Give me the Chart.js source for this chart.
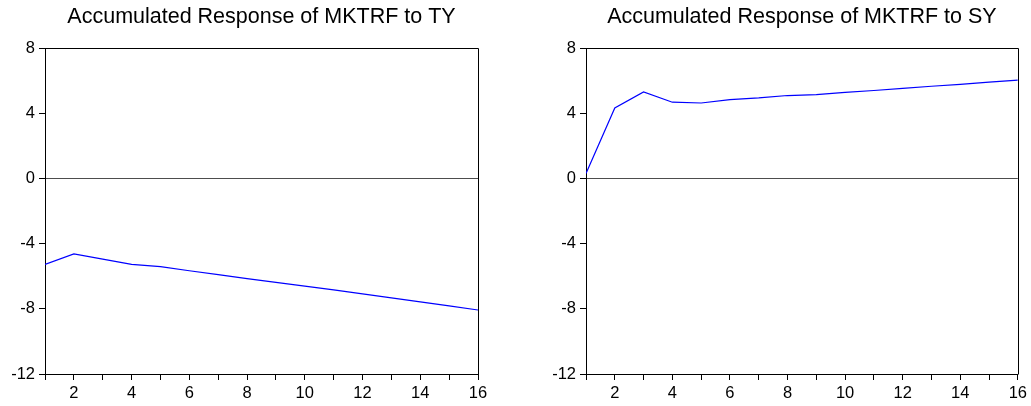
<!DOCTYPE html>
<html lang="en">
<head>
    <meta charset="UTF-8">
    <title>Accumulated Response of MKTRF</title>
    <script src="https://cdn.jsdelivr.net/npm/chart.js"></script>
    <style>
        body {
            margin: 0;
            background: #ffffff;
            font-family: "Liberation Sans", Arial, sans-serif;
        }
        .panel {
            position: absolute;
            top: 0;
            height: 406px;
        }
        #leftPanel { left: 0; width: 515px; }
        #rightPanel { left: 540px; width: 491px; }
    </style>
</head>
<body>
    <div class="panel" id="leftPanel"><canvas id="tyChart"></canvas></div>
    <div class="panel" id="rightPanel"><canvas id="syChart"></canvas></div>

    <script>
        // horizons (periods) and accumulated responses
        var periods = [1, 2, 3, 4, 5, 6, 7, 8, 9, 10, 11, 12, 13, 14, 15, 16];
        var responseTY = [-5.27, -4.62, -4.95, -5.27, -5.41, -5.66, -5.90, -6.14, -6.37, -6.60, -6.83, -7.08, -7.32, -7.57, -7.82, -8.07];
        var responseSY = [0.31, 4.34, 5.32, 4.69, 4.64, 4.85, 4.95, 5.10, 5.16, 5.29, 5.41, 5.54, 5.67, 5.79, 5.92, 6.04];
        var yTicks = [-12, -8, -4, 0, 4, 8];

        Chart.defaults.font.family = '"Liberation Sans", Arial, sans-serif';
        Chart.defaults.color = '#000000';

        // closes the box on top and right
        var frame = {
            id: 'frame',
            afterDatasetsDraw: function(chart) {
                var a = chart.chartArea, c = chart.ctx;
                c.save();
                c.strokeStyle = '#000000';
                c.lineWidth = 1;
                c.beginPath();
                c.moveTo(Math.round(a.left) + 0.5, Math.round(a.top) + 0.5);
                c.lineTo(Math.round(a.right) + 0.5, Math.round(a.top) + 0.5);
                c.lineTo(Math.round(a.right) + 0.5, Math.round(a.bottom) + 0.5);
                c.stroke();
                c.restore();
            }
        };

        function makeChart(id, title, values, axisWidth, padRight) {
            var points = periods.map(function(p, i) { return { x: p, y: values[i] }; });
            return new Chart(document.getElementById(id), {
                type: 'line',
                data: {
                    datasets: [{
                        data: points,
                        borderColor: '#0000ff',
                        borderWidth: 1.2,
                        pointRadius: 0,
                        tension: 0,
                        fill: false
                    }]
                },
                options: {
                    responsive: true,
                    maintainAspectRatio: false,
                    animation: false,
                    layout: { padding: { left: 0, right: padRight, top: 0, bottom: 0 } },
                    plugins: {
                        legend: { display: false },
                        tooltip: { enabled: false },
                        title: {
                            display: true,
                            text: title,
                            fullSize: false,
                            color: '#000000',
                            font: { size: 21.5, weight: 'normal' },
                            padding: { top: 4, bottom: 18.5 }
                        }
                    },
                    scales: {
                        x: {
                            type: 'linear',
                            min: 1,
                            max: 16,
                            afterFit: function(s) { s.height = 32; },
                            ticks: {
                                stepSize: 1,
                                autoSkip: false,
                                maxRotation: 0,
                                padding: 4,
                                font: { size: 16.5 },
                                color: '#000000',
                                callback: function(v) { return v % 2 === 0 ? v : ''; }
                            },
                            grid: { drawOnChartArea: false, tickLength: 6, tickColor: '#000000' },
                            border: { display: true, color: '#000000', width: 1 }
                        },
                        y: {
                            min: yTicks[0],
                            max: yTicks[yTicks.length - 1],
                            afterFit: function(s) { s.width = axisWidth; },
                            afterBuildTicks: function(s) { s.ticks = yTicks.map(function(v) { return { value: v }; }); },
                            ticks: { padding: 4, font: { size: 16.5 }, color: '#000000' },
                            grid: {
                                drawOnChartArea: true,
                                tickLength: 6,
                                tickColor: '#000000',
                                lineWidth: 1,
                                color: function(ctx) { return ctx.tick && ctx.tick.value === 0 ? '#4d4d4d' : 'rgba(0,0,0,0)'; }
                            },
                            border: { display: true, color: '#000000', width: 1 }
                        }
                    }
                },
                plugins: [frame]
            });
        }

        makeChart('tyChart', 'Accumulated Response of MKTRF to TY', responseTY, 45, 37);
        makeChart('syChart', 'Accumulated Response of MKTRF to SY', responseSY, 46, 13);
    </script>
</body>
</html>
